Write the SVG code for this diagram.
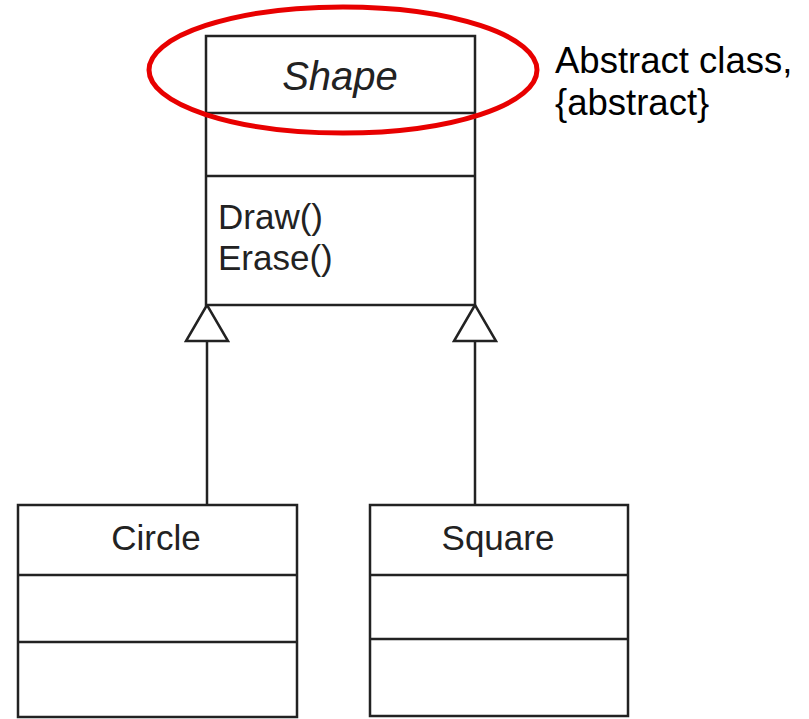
<svg xmlns="http://www.w3.org/2000/svg" width="809" height="719" viewBox="0 0 809 719">
<style>
.box{fill:#fff;stroke:#222;stroke-width:2.5}
.div{stroke:#222;stroke-width:2.5}
.uml{font-family:"Liberation Sans",Arial,sans-serif;font-size:35px;fill:#222}
.title{font-style:italic;font-size:40px}
.note{font-family:"Liberation Sans",Arial,sans-serif;font-size:36.5px;fill:#000}
.conn{stroke:#222;stroke-width:2.5;fill:none}
.tri{fill:#fff;stroke:#222;stroke-width:2.5;stroke-linejoin:miter}
</style>
<rect width="809" height="719" fill="#fff"/>
<g id="connectors">
<line class="conn" x1="207" y1="341" x2="207" y2="505"/>
<polygon class="tri" points="207,305 186,341 228,341"/>
<line class="conn" x1="475" y1="341" x2="475" y2="505"/>
<polygon class="tri" points="475,305 454,341 496,341"/>
</g>
<g id="shape">
<rect class="box" x="206" y="36" width="269" height="269"/>
<line class="div" x1="206" y1="113" x2="475" y2="113"/>
<line class="div" x1="206" y1="176" x2="475" y2="176"/>
<text class="uml title" x="340" y="90" text-anchor="middle">Shape</text>
<text class="uml" x="218" y="229">Draw()</text>
<text class="uml" x="218" y="270">Erase()</text>
</g>
<g id="circle">
<rect class="box" x="18" y="505" width="279" height="212"/>
<line class="div" x1="18" y1="575" x2="297" y2="575"/>
<line class="div" x1="18" y1="642" x2="297" y2="642"/>
<text class="uml" x="156" y="550" text-anchor="middle">Circle</text>
</g>
<g id="square">
<rect class="box" x="370" y="505" width="258" height="211"/>
<line class="div" x1="370" y1="575" x2="628" y2="575"/>
<line class="div" x1="370" y1="639" x2="628" y2="639"/>
<text class="uml" x="498" y="550" text-anchor="middle">Square</text>
</g>
<g id="annotation">
<ellipse cx="343" cy="70" rx="194" ry="63" fill="none" stroke="#e80000" stroke-width="5"/>
<text class="note" x="555" y="73">Abstract class,</text>
<text class="note" x="555" y="115">{abstract}</text>
</g>
</svg>
